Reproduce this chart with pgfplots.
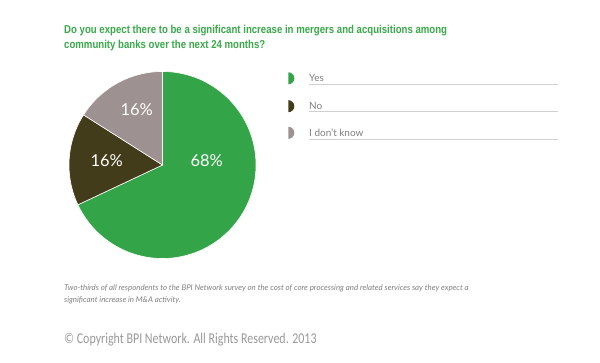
\documentclass[border=0pt]{standalone}
\usepackage{pgfplots}
\pgfplotsset{compat=1.18}
\usepackage{pgfplotstable}
\usepackage{fontspec}
\setmainfont{Lato}
\newfontfamily\titlefont[FakeStretch=0.84]{Liberation Sans}
\newfontfamily\copyfont[FakeStretch=0.80]{Carlito}
\definecolor{yesgreen}{HTML}{34A448}
\definecolor{nobrown}{HTML}{433C1B}
\definecolor{idkgray}{HTML}{9D9291}
\definecolor{titlegreen}{HTML}{3AA94A}
\definecolor{legtext}{HTML}{7F7F7F}
\definecolor{legline}{HTML}{D0D0D0}
\definecolor{foot}{HTML}{808080}
\definecolor{copy}{HTML}{999999}

\pgfplotstableread{
label value
Yes 68
No 16
Idk 16
}\piedata

\begin{document}
\begin{tikzpicture}[x=1bp,y=1bp]
\path[use as bounding box, fill=white] (0,0) rectangle (600,362);
% cumulative angles (clockwise from top)
\pgfplotstablegetelem{0}{value}\of\piedata \let\vA\pgfplotsretval
\pgfplotstablegetelem{1}{value}\of\piedata \let\vB\pgfplotsretval
\pgfplotstablegetelem{2}{value}\of\piedata \let\vC\pgfplotsretval
\pgfmathsetmacro\aS{90}
\pgfmathsetmacro\aA{90-3.6*\vA}
\pgfmathsetmacro\aB{\aA-3.6*\vB}
\pgfmathsetmacro\aC{\aB-3.6*\vC}
\begin{axis}[
  x=93.5bp, y=93.5bp,
  xmin=-1.05, xmax=1.05, ymin=-1.05, ymax=1.05,
  hide axis, anchor=center, at={(162.5bp,197bp)},
  clip=false,
]
\addplot[fill=yesgreen, draw=white, line width=0.6pt, domain=\aA:\aS, samples=150, variable=\t]
  ({cos(\t)},{sin(\t)}) -- (axis cs:0,0) -- cycle;
\addplot[fill=nobrown, draw=white, line width=0.6pt, domain=\aB:\aA, samples=60, variable=\t]
  ({cos(\t)},{sin(\t)}) -- (axis cs:0,0) -- cycle;
\addplot[fill=idkgray, draw=white, line width=0.6pt, domain=\aC:\aB, samples=60, variable=\t]
  ({cos(\t)},{sin(\t)}) -- (axis cs:0,0) -- cycle;
\node[white, font=\fontsize{16.5}{18}\selectfont] at (axis cs:0.473,0.046) {\vA\%};
\node[white, font=\fontsize{16.5}{18}\selectfont] at (axis cs:-0.597,0.046) {\vB\%};
\node[white, font=\fontsize{16.5}{18}\selectfont] at (axis cs:-0.276,0.588) {\vC\%};
\end{axis}
% title
\node[anchor=base west, inner sep=0, text=titlegreen, font=\titlefont\bfseries\fontsize{11.5}{15}\selectfont] at (64,362-33.3)
  {Do you expect there to be a significant increase in mergers and acquisitions among};
\node[anchor=base west, inner sep=0, text=titlegreen, font=\titlefont\bfseries\fontsize{11.5}{15}\selectfont] at (64,362-48.3)
  {community banks over the next 24 months?};
% legend
\foreach \yy/\col/\txt/\ly in {78.3/yesgreen/Yes/81.7, 106.2/nobrown/No/109, 132.8/idkgray/I don't know/136.7}{
  \fill[\col] (288.3,362-\yy+6) arc[start angle=90, end angle=-90, radius=6] -- cycle;
  \node[anchor=base west, inner sep=0, text=legtext, font=\fontsize{10}{12}\selectfont] at (309,362-\ly) {\txt};
  \draw[legline, line width=0.9pt] (309,362-\ly-2.5) -- (558,362-\ly-2.5);
}
% footnote
\node[anchor=base west, inner sep=0, text=foot, font=\itshape\fontsize{7.9}{9}\selectfont] at (64,362-290.7)
  {Two-thirds of all respondents to the BPI Network survey on the cost of core processing and related services say they expect a};
\node[anchor=base west, inner sep=0, text=foot, font=\itshape\fontsize{7.9}{9}\selectfont] at (64,362-302.7)
  {significant increase in M\&A activity.};
% copyright
\node[anchor=base west, inner sep=0, text=copy, font=\copyfont\fontsize{15}{18}\selectfont] at (64,362-343.3)
  {\textcopyright{} Copyright BPI Network. All Rights Reserved. 2013};
\end{tikzpicture}
\end{document}
